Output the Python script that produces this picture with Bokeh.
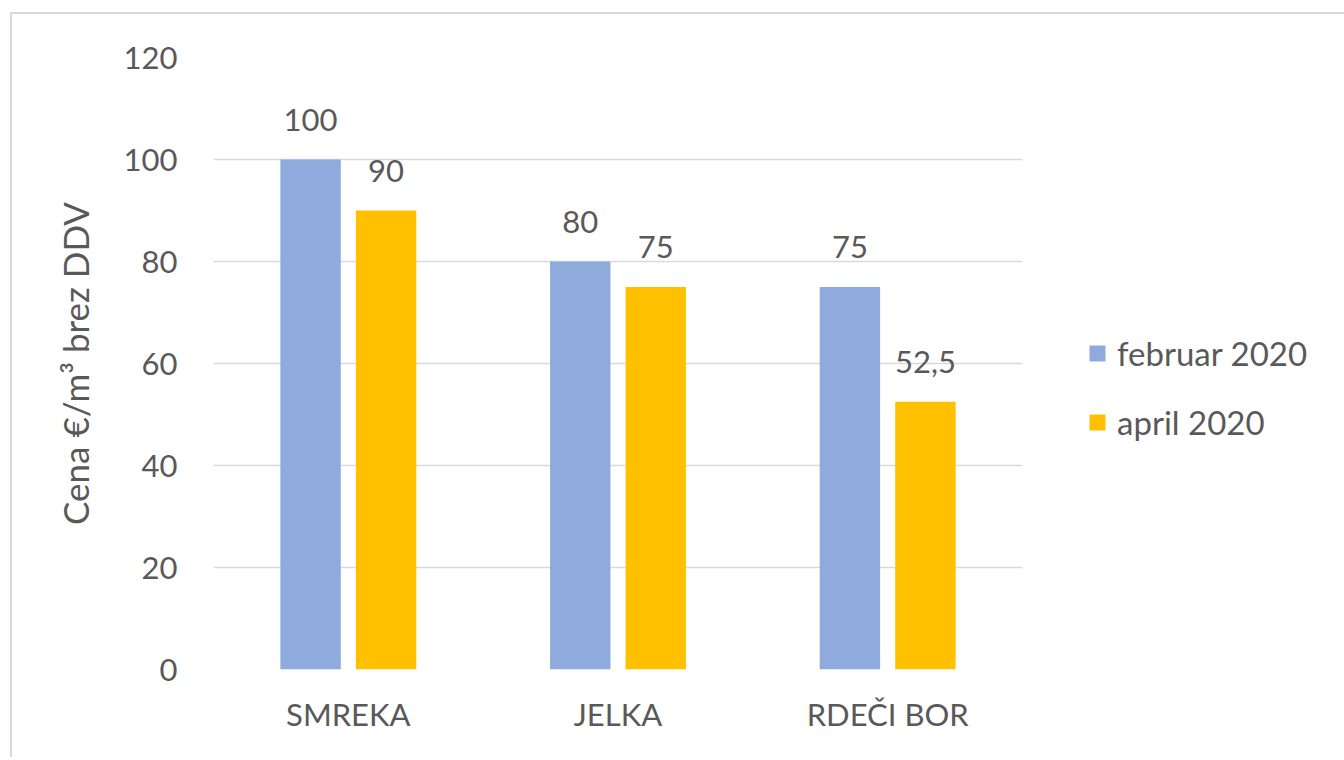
from bokeh.plotting import figure
from bokeh.models import ColumnDataSource, FactorRange, Range1d, Legend, LegendItem, FixedTicker
from bokeh.transform import dodge
from bokeh.core.properties import value
from bokeh.embed import file_html
from bokeh.resources import INLINE

# ---- data ----
categories = ["SMREKA", "JELKA", "RDEČI BOR"]
feb_2020 = [100, 80, 75]
apr_2020 = [90, 75, 52.5]
feb_labels = ["100", "80", "75"]
apr_labels = ["90", "75", "52,5"]
series_names = ["februar 2020", "april 2020"]
y_ticks = [0, 20, 40, 60, 80, 100, 120]
y_title = "Cena €/m³ brez DDV"

FONT = "Lato"
TXT = "#595959"
FS = "31px"
BLUE = "#8FAADC"
GOLD = "#FFC000"

src = ColumnDataSource(dict(cat=categories, feb=feb_2020, apr=apr_2020,
                            feb_lbl=feb_labels, apr_lbl=apr_labels))

p = figure(x_range=FactorRange(*categories), y_range=Range1d(0, 120),
           frame_width=809, frame_height=612,
           min_border_left=201, min_border_top=43, min_border_right=308, min_border_bottom=88,
           output_backend="svg", toolbar_location=None,
           styles={"position": "relative", "left": "10px", "top": "12px",
                   "border-left": "2px solid #d9d9d9", "border-top": "2px solid #d9d9d9"})

OFF = 0.14
W = 0.224
r1 = p.vbar(x=dodge("cat", -OFF, range=p.x_range), top="feb", width=W, source=src,
            fill_color=BLUE, line_color=None)
r2 = p.vbar(x=dodge("cat", OFF, range=p.x_range), top="apr", width=W, source=src,
            fill_color=GOLD, line_color=None)

for col, off in (("feb", -OFF), ("apr", OFF)):
    p.text(x=dodge("cat", off, range=p.x_range), y=col, text=col + "_lbl", source=src,
           text_align="center", text_baseline="alphabetic", y_offset=-40,
           text_font=value(FONT), text_font_size=FS, text_color=TXT)

p.outline_line_color = None
p.xgrid.grid_line_color = None
p.ygrid.grid_line_color = "#d9d9d9"
p.ygrid.grid_line_width = 1.5

p.yaxis.ticker = FixedTicker(ticks=y_ticks)
p.yaxis.axis_label = y_title
for ax in (p.xaxis[0], p.yaxis[0]):
    ax.axis_line_color = None
    ax.major_tick_line_color = None
    ax.minor_tick_line_color = None
    ax.major_label_text_font = FONT
    ax.major_label_text_font_size = FS
    ax.major_label_text_color = TXT
p.yaxis.major_label_standoff = 30
p.xaxis.major_label_standoff = 19
p.yaxis.axis_label_text_font = FONT
p.yaxis.axis_label_text_font_size = "35px"
p.yaxis.axis_label_text_font_style = "normal"
p.yaxis.axis_label_text_color = TXT
p.yaxis.axis_label_standoff = 25

legend = Legend(items=[LegendItem(label=series_names[0], renderers=[r1]),
                       LegendItem(label=series_names[1], renderers=[r2])],
                location=(65, 227), orientation="vertical",
                glyph_width=20, glyph_height=20, label_height=20, label_standoff=10,
                spacing=29, padding=0, margin=0,
                border_line_color=None, background_fill_alpha=0,
                label_text_font=FONT, label_text_font_size="33px", label_text_color=TXT)
p.add_layout(legend, "right")

open("out.html", "w").write(file_html(p, INLINE))
